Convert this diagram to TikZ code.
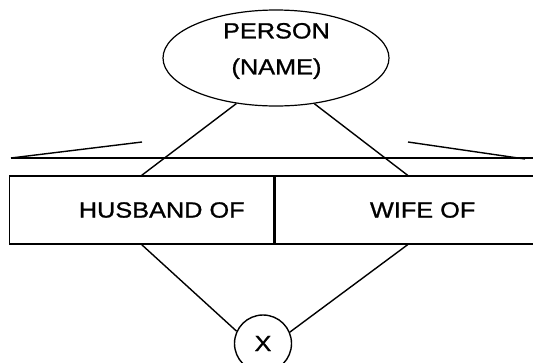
\documentclass[tikz,border=0pt]{standalone}
\usepackage{fontspec}
\setmainfont{Liberation Sans}[FakeStretch=1.15,FakeBold=1]
\usetikzlibrary{shapes.geometric}
\begin{document}
\begin{tikzpicture}[x=1pt,y=-1pt,
  line width=1.4pt,
  txt/.style={font=\fontsize{22}{36}\selectfont},
  ent/.style={draw,ellipse,minimum width=226pt,minimum height=96pt,inner sep=0pt,line width=1.2pt},
  cell/.style={draw,rectangle,minimum width=264.5pt,minimum height=68pt,inner sep=0pt,txt},
  opc/.style={draw,circle,minimum size=57pt,inner sep=0pt,txt}]
\useasboundingbox (0,0) rectangle (533,362);
\clip (0,0) rectangle (533,362);
% entity
\node[ent] (person) at (276,58) {};
\node[txt,align=center] (ptext) at (276.5,51) {PERSON\\(NAME)};
% relationship box
\node[cell] (hus) at (141.75,210) {\hspace*{40pt}HUSBAND OF};
\node[cell,anchor=west] (wife) at (hus.east) {\hspace*{30pt}WIFE OF};
% operator
\node[opc] (op) at (263,343.5) {X};
% bar with slants
\coordinate (bl) at (11,158);
\coordinate (br) at (545,158);
\coordinate (sl) at (142,142);
\coordinate (sr) at (408,142);
\coordinate (srend) at (525,159);
\draw (bl) -- (br);
\draw (bl) -- (sl);
\draw (sr) -- (srend);
% connectors
\draw (person.229) -- (hus.north);
\draw (person.310) -- (wife.north);
\draw (hus.south) -- (op.155);
\draw (wife.south) -- (op.23);
\end{tikzpicture}
\end{document}
